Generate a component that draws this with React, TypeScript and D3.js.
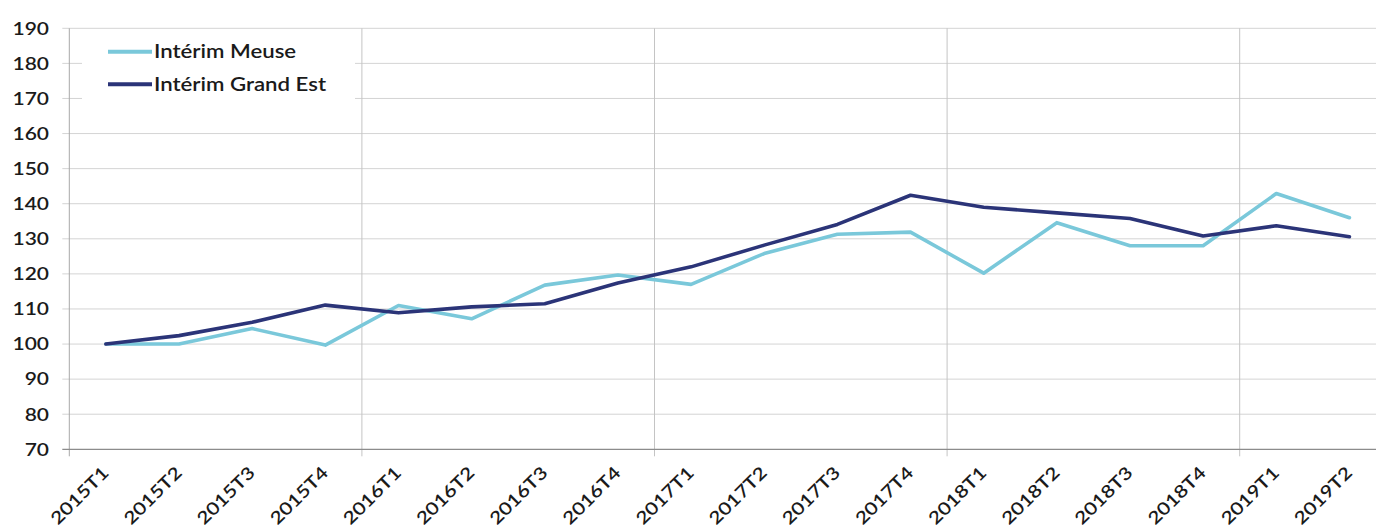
import React, { useEffect, useRef } from "react";
import * as d3 from "d3";

// quarters on the x axis
const categories = [
  "2015T1", "2015T2", "2015T3", "2015T4",
  "2016T1", "2016T2", "2016T3", "2016T4",
  "2017T1", "2017T2", "2017T3", "2017T4",
  "2018T1", "2018T2", "2018T3", "2018T4",
  "2019T1", "2019T2",
];

// index base 100 = 2015T1
const meuse = [
  100, 100, 104.4, 99.7,
  111.0, 107.2, 116.8, 119.7,
  117.0, 125.8, 131.3, 131.9,
  120.2, 134.6, 128.0, 128.0,
  142.9, 136.0,
];

const grandEst = [
  100, 102.4, 106.2, 111.1,
  108.9, 110.6, 111.5, 117.4,
  122.0, 128.2, 134.1, 142.4,
  139.0, 137.4, 135.8, 130.8,
  133.7, 130.6,
];

const yTicks = [70, 80, 90, 100, 110, 120, 130, 140, 150, 160, 170, 180, 190];

const seriesNames = ["Intérim Meuse", "Intérim Grand Est"];
const seriesColors = ["#7ac8da", "#2b3478"];

const FONT = "Lato, 'Open Sans', sans-serif";
// the original typeface is wider than Lato
const SX = 1.2;

export default function App() {
  const ref = useRef<SVGSVGElement>(null);
  const width = 1376;
  const height = 528;

  useEffect(() => {
    document.body.style.margin = "0";
    const svg = d3.select(ref.current);
    svg.selectAll("*").remove();

    const left = 69.3;
    const step = 73.15;
    const x = d3
      .scaleBand()
      .domain(categories)
      .range([left, left + step * categories.length]);
    const y = d3.scaleLinear().domain([70, 190]).range([449.3, 28.3]);
    const cx = (c: string) => (x(c) as number) + x.bandwidth() / 2;

    // horizontal grid
    svg
      .append("g")
      .selectAll("line")
      .data(yTicks.filter((t) => t > 70))
      .enter()
      .append("line")
      .attr("x1", left - 7)
      .attr("x2", width)
      .attr("y1", (d) => y(d))
      .attr("y2", (d) => y(d))
      .attr("stroke", "#d4d4d4")
      .attr("stroke-width", 1);

    // year separators (every 4 quarters) + left axis
    const yearEdges = categories.filter((_, i) => i % 4 === 0);
    svg
      .append("g")
      .selectAll("line")
      .data(yearEdges)
      .enter()
      .append("line")
      .attr("x1", (d) => x(d) as number)
      .attr("x2", (d) => x(d) as number)
      .attr("y1", y(190))
      .attr("y2", y(70) + 7)
      .attr("stroke", (d, i) => (i === 0 ? "#a8a8a8" : "#c4c4c4"))
      .attr("stroke-width", 1);

    // x axis line
    svg
      .append("line")
      .attr("x1", left - 7)
      .attr("x2", width)
      .attr("y1", y(70))
      .attr("y2", y(70))
      .attr("stroke", "#8c8c8c")
      .attr("stroke-width", 1.2);

    // y labels
    svg
      .append("g")
      .selectAll("text")
      .data(yTicks)
      .enter()
      .append("text")
      .attr("transform", (d) => `translate(49,${y(d)}) scale(${SX},1)`)
      .attr("dy", "0.36em")
      .attr("text-anchor", "end")
      .attr("font-family", FONT)
      .attr("font-weight", 600)
      .attr("font-size", 17.5)
      .attr("fill", "#1a1a1a")
      .text((d) => d);

    // x labels
    svg
      .append("g")
      .selectAll("text")
      .data(categories)
      .enter()
      .append("text")
      .attr("transform", (d) => `translate(${cx(d) + 4},474) rotate(-45) scale(${SX},1)`)
      .attr("text-anchor", "end")
      .attr("font-family", FONT)
      .attr("font-weight", 600)
      .attr("font-size", 17.5)
      .attr("fill", "#1a1a1a")
      .text((d) => d);

    // lines
    const line = d3
      .line<number>()
      .x((_, i) => cx(categories[i]))
      .y((d) => y(d));

    [meuse, grandEst].forEach((s, i) => {
      svg
        .append("path")
        .datum(s)
        .attr("d", line)
        .attr("fill", "none")
        .attr("stroke", seriesColors[i])
        .attr("stroke-width", 3.6)
        .attr("stroke-linejoin", "round")
        .attr("stroke-linecap", "round");
    });

    // legend
    const legend = svg.append("g");
    legend
      .append("rect")
      .attr("x", 82)
      .attr("y", 34)
      .attr("width", 273)
      .attr("height", 86)
      .attr("fill", "#fff");
    seriesNames.forEach((name, i) => {
      const ly = 51.7 + i * 32.6;
      legend
        .append("line")
        .attr("x1", 108)
        .attr("x2", 152)
        .attr("y1", ly)
        .attr("y2", ly)
        .attr("stroke", seriesColors[i])
        .attr("stroke-width", 4);
      legend
        .append("text")
        .attr("transform", `translate(154,${ly}) scale(${SX},1)`)
        .attr("dy", "0.36em")
        .attr("font-family", FONT)
        .attr("font-weight", 600)
        .attr("font-size", 18.5)
        .attr("fill", "#1a1a1a")
        .text(name);
    });
  }, []);

  return <svg ref={ref} width={width} height={height} style={{ display: "block", background: "#fff" }} />;
}
